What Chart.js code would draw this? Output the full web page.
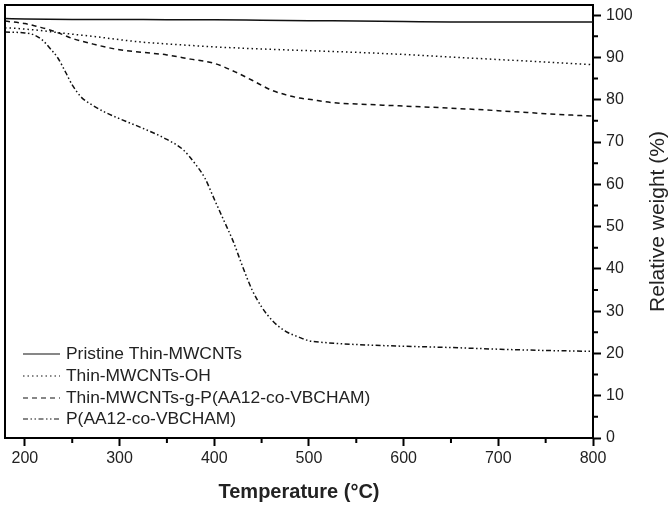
<!DOCTYPE html>
<html>
<head>
<meta charset="utf-8">
<script src="https://cdn.jsdelivr.net/npm/chart.js@4.4.1/dist/chart.umd.min.js"></script>
<style>
  html, body { margin: 0; padding: 0; background: #fff; }
  #wrap { width: 672px; height: 514px; position: relative; }
</style>
</head>
<body>
<div id="wrap"><canvas id="tgaChart"></canvas></div>
<script>
const seriesNames = [
  "Pristine Thin-MWCNTs",
  "Thin-MWCNTs-OH",
  "Thin-MWCNTs-g-P(AA12-co-VBCHAM)",
  "P(AA12-co-VBCHAM)"
];

const pristineTemp = [179, 200, 250, 300, 350, 400, 450, 500, 550, 600, 650, 700, 750, 800];
const pristineWeight = [99.2, 99.1, 99.0, 99.0, 98.9, 98.9, 98.8, 98.7, 98.6, 98.5, 98.4, 98.4, 98.4, 98.4];

const ohTemp = [179, 190, 200, 215, 230, 250, 275, 300, 325, 350, 400, 450, 500, 550, 600, 650, 700, 750, 800];
const ohWeight = [97.0, 96.9, 96.7, 96.4, 96.0, 95.5, 94.9, 94.2, 93.6, 93.2, 92.5, 92.0, 91.6, 91.2, 90.7, 90.1, 89.5, 88.9, 88.3];

const graftTemp = [179, 200, 215, 225, 240, 250, 275, 300, 325, 350, 375, 400, 420, 440, 460, 475, 490, 500, 525, 550, 600, 650, 700, 750, 800];
const graftWeight = [98.6, 98.0, 97.2, 96.6, 95.4, 94.5, 93.0, 91.8, 91.2, 90.6, 89.6, 88.6, 86.8, 84.6, 82.3, 81.2, 80.4, 80.1, 79.3, 79.0, 78.5, 78.0, 77.4, 76.7, 76.1];

const polyTemp = [179, 200, 210, 218, 226, 235, 243, 250, 260, 270, 285, 300, 325, 350, 367, 380, 390, 400, 410, 420, 430, 440, 450, 462, 475, 490, 500, 515, 550, 600, 650, 700, 750, 800];
const polyWeight = [96.0, 95.8, 95.3, 94.2, 92.3, 89.8, 86.5, 83.5, 80.5, 78.9, 77.0, 75.5, 73.2, 70.6, 68.2, 64.8, 61.5, 56.5, 51.5, 46.5, 40.5, 35.0, 31.0, 27.6, 25.3, 23.8, 23.0, 22.6, 22.1, 21.7, 21.4, 21.0, 20.7, 20.5];

const xTicks = [200, 300, 400, 500, 600, 700, 800];
const xMinorTicks = [250, 350, 450, 550, 650, 750];
const yTicks = [0, 10, 20, 30, 40, 50, 60, 70, 80, 90, 100];
const yMinorTicks = [5, 15, 25, 35, 45, 55, 65, 75, 85, 95];

const lineStyles = [
  [],
  [1.5, 3],
  [5, 4],
  [5, 2.5, 1.5, 2.5, 1.5, 2.5]
];

function toPoints(temps, weights) {
  return temps.map((t, i) => ({ x: t, y: weights[i] }));
}

const seriesData = [
  toPoints(pristineTemp, pristineWeight),
  toPoints(ohTemp, ohWeight),
  toPoints(graftTemp, graftWeight),
  toPoints(polyTemp, polyWeight)
];

const fontFamily = "'Liberation Sans', Arial, sans-serif";
const ink = "#111";

// frame, minor ticks, inset legend and the upward-reading y title
const extrasPlugin = {
  id: "extras",
  afterDraw(chart) {
    const { ctx, chartArea } = chart;
    const xs = chart.scales.x;
    const ys = chart.scales.y;
    ctx.save();
    ctx.strokeStyle = "#000";
    ctx.lineWidth = 2;
    ctx.beginPath();
    ctx.moveTo(chartArea.left, chartArea.bottom + 1);
    ctx.lineTo(chartArea.left, chartArea.top);
    ctx.lineTo(chartArea.right + 1, chartArea.top);
    ctx.stroke();

    ctx.beginPath();
    for (const v of xMinorTicks) {
      const px = xs.getPixelForValue(v);
      ctx.moveTo(px, chartArea.bottom);
      ctx.lineTo(px, chartArea.bottom + 5);
    }
    for (const v of yMinorTicks) {
      const py = ys.getPixelForValue(v);
      ctx.moveTo(chartArea.right, py);
      ctx.lineTo(chartArea.right + 5, py);
    }
    ctx.stroke();

    // legend
    ctx.font = "17.4px " + fontFamily;
    ctx.textBaseline = "middle";
    ctx.textAlign = "left";
    const rowOffsets = [84, 62, 40, 19];
    chart.data.datasets.forEach((ds, i) => {
      const y = chartArea.bottom - rowOffsets[i];
      ctx.strokeStyle = ink;
      ctx.lineWidth = 1.2;
      ctx.setLineDash(ds.borderDash);
      ctx.beginPath();
      ctx.moveTo(chartArea.left + 18, y);
      ctx.lineTo(chartArea.left + 55, y);
      ctx.stroke();
      ctx.setLineDash([]);
      ctx.fillStyle = "#222";
      ctx.fillText(ds.label, chartArea.left + 61, y);
    });

    // y title
    ctx.translate(658, (chartArea.top + chartArea.bottom) / 2);
    ctx.rotate(-Math.PI / 2);
    ctx.textAlign = "center";
    ctx.font = "21px " + fontFamily;
    ctx.fillStyle = "#222";
    ctx.fillText("Relative weight (%)", 0, 0);
    ctx.restore();
  }
};

const ctx = document.getElementById("tgaChart").getContext("2d");
new Chart(ctx, {
  type: "line",
  data: {
    datasets: seriesNames.map((name, i) => ({
      label: name,
      data: seriesData[i],
      borderColor: ink,
      borderWidth: 1.5,
      borderDash: lineStyles[i],
      pointRadius: 0,
      fill: false,
      cubicInterpolationMode: "monotone"
    }))
  },
  options: {
    responsive: true,
    maintainAspectRatio: false,
    animation: false,
    layout: { padding: { left: 5, top: 5, right: 0, bottom: 0 } },
    plugins: {
      legend: { display: false },
      tooltip: { enabled: false }
    },
    scales: {
      x: {
        type: "linear",
        min: 179,
        max: 800,
        afterBuildTicks: (scale) => {
          scale.ticks = xTicks.map((v) => ({ value: v }));
        },
        afterFit: (scale) => {
          scale.height = 76;
          scale.paddingLeft = 0;
          scale.paddingRight = 0;
        },
        ticks: {
          color: "#222",
          padding: 3,
          maxRotation: 0,
          font: { family: fontFamily, size: 16 }
        },
        grid: {
          drawOnChartArea: false,
          drawTicks: true,
          tickLength: 8,
          tickWidth: 2,
          tickColor: "#000"
        },
        border: { display: true, color: "#000", width: 2 },
        title: {
          display: true,
          text: "Temperature (°C)",
          color: "#222",
          font: { family: fontFamily, size: 20, weight: "bold" },
          padding: { top: 0, bottom: 10 }
        }
      },
      y: {
        type: "linear",
        position: "right",
        min: 0,
        max: 102.4,
        afterBuildTicks: (scale) => {
          scale.ticks = yTicks.map((v) => ({ value: v }));
        },
        afterFit: (scale) => {
          scale.width = 79;
          scale.paddingTop = 0;
          scale.paddingBottom = 0;
        },
        ticks: {
          color: "#222",
          padding: 5,
          font: { family: fontFamily, size: 16 }
        },
        grid: {
          drawOnChartArea: false,
          drawTicks: true,
          tickLength: 8,
          tickWidth: 2,
          tickColor: "#000"
        },
        border: { display: true, color: "#000", width: 2 }
      }
    }
  },
  plugins: [extrasPlugin]
});
</script>
</body>
</html>
